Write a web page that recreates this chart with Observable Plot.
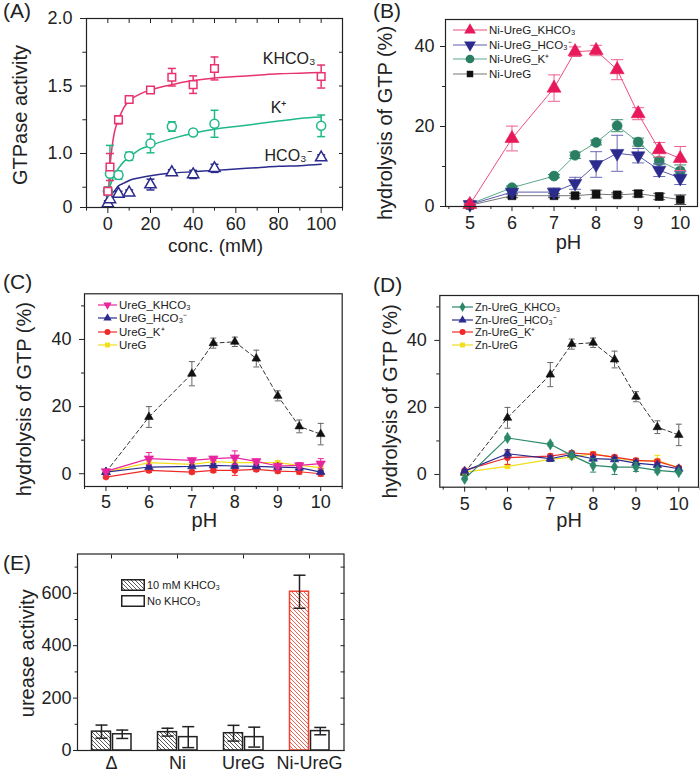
<!DOCTYPE html>
<html>
<head>
<meta charset="utf-8">
<script src="https://cdn.jsdelivr.net/npm/d3@7"></script>
<script src="https://cdn.jsdelivr.net/npm/@observablehq/plot@0.6"></script>
<style>
  html, body { margin: 0; padding: 0; background: #fff; }
  #fig { position: relative; width: 700px; height: 781px; overflow: hidden; font-family: "Liberation Sans", Arial, Helvetica, sans-serif; color: #222; }
  .tag { position: absolute; font-size: 21px; line-height: 21px; }
  .leg { position: absolute; display: flex; align-items: center; white-space: nowrap; height: 14px; line-height: 14px; }
</style>
</head>
<body>
<svg style="position:absolute;width:0;height:0">
  <defs>
    <pattern id="hatchK" patternUnits="userSpaceOnUse" width="4" height="4">
      <path d="M-1,-1L5,5M-1,3L1,5M3,-1L5,1" stroke="#444" stroke-width="0.9"/>
    </pattern>
    <pattern id="hatchR" patternUnits="userSpaceOnUse" width="4" height="4">
      <path d="M-1,-1L5,5M-1,3L1,5M3,-1L5,1" stroke="#f0503c" stroke-width="0.9"/>
    </pattern>
  </defs>
</svg>
<div id="fig">
  <div class="tag" style="left:3px;top:0px">(A)</div>
  <div class="tag" style="left:373px;top:0px">(B)</div>
  <div class="tag" style="left:3px;top:271px">(C)</div>
  <div class="tag" style="left:373px;top:274px">(D)</div>
  <div class="tag" style="left:3px;top:552px">(E)</div>
</div>
<script>
// ---------------- Panel A data ----------------
const concA = [0, 1, 5, 10, 20, 30, 40, 50, 100];
const khco3A = [0.72, 0.90, 1.25, 1.40, 1.47, 1.565, 1.51, 1.63, 1.57];
const khco3AErr = [0.03, 0.10, 0.03, 0.02, 0.01, 0.065, 0.065, 0.085, 0.085];
const kA = [0.72, 0.85, 0.84, 0.98, 1.075, 1.20, 1.155, 1.22, 1.205];
const kAErr = [0.03, 0.21, 0.03, 0.03, 0.07, 0.035, 0.02, 0.10, 0.08];
const hco3A = [0.63, 0.66, 0.70, 0.71, 0.77, 0.86, 0.845, 0.89, 0.97];
const hco3AErr = [0.02, 0.02, 0.02, 0.02, 0.04, 0.02, 0.03, 0.03, 0.02];
const fitConcA = [0, 1, 2, 3, 5, 7.5, 10, 15, 20, 30, 40, 50, 60, 70, 80, 90, 100];
const fitKHCO3A = [0.62, 0.90, 1.05, 1.15, 1.25, 1.34, 1.39, 1.44, 1.47, 1.51, 1.54, 1.56, 1.57, 1.58, 1.59, 1.595, 1.60];
const fitKA = [0.62, 0.75, 0.80, 0.84, 0.89, 0.94, 0.97, 1.03, 1.06, 1.11, 1.15, 1.18, 1.20, 1.22, 1.24, 1.26, 1.27];
const fitHCO3A = [0.60, 0.66, 0.70, 0.72, 0.76, 0.78, 0.80, 0.82, 0.835, 0.855, 0.865, 0.875, 0.885, 0.895, 0.905, 0.91, 0.92];
const yTicksA = [0.6, 1.0, 1.5, 2.0];
const yTickLabelsA = ["0", "1.0", "1.5", "2.0"];
const yMinorA = [0.75, 1.25, 1.75];
const xTicksA = [0, 20, 40, 60, 80, 100];
const xMinorA = [-10, 10, 30, 50, 70, 90, 110];
const labelsA = ["KHCO₃", "K⁺", "HCO₃⁻"];
const labelXA = [85, 80, 84.5];
const labelYA = [1.70, 1.335, 0.985];

// ---------------- pH panels ----------------
const pH = [5, 6, 7, 7.5, 8, 8.5, 9, 9.5, 10];
const pHTicks = [5, 6, 7, 8, 9, 10];
const pHMinor = [4.5, 5.5, 6.5, 7.5, 8.5, 9.5, 10.5];
// Panel B
const niKHCO3 = [0.5, 17.0, 29.6, 38.7, 39.0, 34.2, 23.2, 14.2, 12.0];
const niKHCO3Err = [0.3, 3.1, 3.3, 1.2, 1.3, 2.5, 1.5, 1.8, 3.0];
const niHCO3 = [0.5, 3.6, 3.6, 5.8, 10.5, 13.3, 12.7, 9.1, 7.1];
const niHCO3Err = [0.3, 0.5, 1.0, 1.5, 3.2, 4.5, 1.8, 1.6, 1.6];
const niK = [0.6, 4.7, 7.6, 12.8, 16.0, 20.2, 16.1, 11.4, 8.9];
const niKErr = [0.3, 0.4, 0.4, 0.8, 0.6, 1.5, 1.0, 0.8, 1.5];
const niUreG = [0.3, 2.7, 2.7, 2.7, 3.1, 2.9, 3.2, 2.5, 1.7];
const niUreGErr = [0.3, 0.5, 0.5, 0.6, 1.0, 0.5, 0.8, 0.8, 1.2];
const yTicksB = [0, 20, 40];
const yMinorB = [10, 30];
// Reference curve (Ni-UreG_KHCO3) shown dashed in C and D
const refKHCO3 = [0.5, 16.9, 29.8, 38.9, 39.3, 34.3, 23.2, 14.1, 11.8];
const refKHCO3Err = [0.3, 3.1, 3.6, 1.5, 1.4, 2.5, 1.5, 1.9, 3.2];
// Panel C
const ureGKHCO3 = [0.7, 4.5, 4.0, 4.5, 4.8, 3.7, 2.3, 2.5, 3.0];
const ureGKHCO3Err = [0.3, 1.8, 0.6, 0.6, 2.0, 0.6, 0.6, 0.8, 1.5];
const ureGHCO3 = [0.5, 2.0, 2.2, 2.5, 2.3, 2.2, 2.0, 1.8, 0.5];
const ureGHCO3Err = [0.3, 0.4, 0.4, 0.5, 0.5, 0.5, 0.4, 0.5, 0.5];
const ureGK = [-1.0, 1.0, 0.5, 1.0, 1.0, 1.3, 0.8, 0.6, 0.0];
const ureGKErr = [0.4, 0.6, 0.5, 0.6, 1.5, 0.6, 0.6, 0.7, 0.7];
const ureG = [0.5, 3.3, 2.8, 3.6, 3.3, 3.3, 3.3, 2.5, 1.8];
const ureGErr = [0.3, 0.5, 0.5, 0.5, 0.6, 0.5, 0.6, 0.6, 0.6];
// Panel D
const znKHCO3 = [-1.3, 10.9, 9.0, 5.7, 2.7, 2.2, 2.2, 1.2, 0.7];
const znKHCO3Err = [0.3, 0.4, 0.5, 0.6, 2.0, 2.2, 1.3, 0.7, 0.4];
const znHCO3 = [1.0, 6.2, 4.7, 6.0, 4.7, 4.5, 3.4, 2.8, 1.7];
const znHCO3Err = [0.3, 1.2, 0.8, 0.6, 0.6, 0.6, 0.6, 0.6, 0.5];
const znK = [1.2, 5.0, 5.5, 6.4, 6.0, 5.2, 4.2, 3.9, 2.0];
const znKErr = [0.3, 2.0, 0.6, 0.6, 0.6, 0.5, 0.6, 0.6, 0.4];
const znUreG = [0.7, 2.4, 4.5, 5.2, 6.2, 5.0, 4.0, 4.2, 2.0];
const znUreGErr = [0.3, 0.4, 0.5, 0.6, 0.6, 0.6, 0.6, 1.5, 0.4];
const yTicksCD = [0, 20, 40];
const yMinorCD = [10, 30, 50];

// ---------------- Panel E ----------------
const groupsE = ["Δ", "Ni", "UreG", "Ni-UreG"];
const withKHCO3 = [72, 70, 66, 606];
const withKHCO3Err = [25, 15, 30, 63];
const noKHCO3 = [62, 51, 51, 74];
const noKHCO3Err = [16, 40, 38, 14];
const yTicksE = [0, 200, 400, 600];
const yMinorE = [100, 300, 500, 700];

// ---------------- helpers ----------------
const fig = document.getElementById("fig");
const FONT = '"Liberation Sans", Arial, Helvetica, sans-serif';
const STYLE = {fontFamily: FONT, fontSize: "18px", color: "#222", background: "transparent", overflow: "visible"};
const intFmt = d => String(d);

function place(el, left, top) {
  el.style.position = "absolute";
  el.style.left = left + "px";
  el.style.top = top + "px";
  el.style.overflow = "visible";
  el.style.background = "transparent";
  fig.insertBefore(el, fig.firstChild);
}
const capSym = {draw(ctx, size) { const w = Math.sqrt(size / Math.PI); ctx.moveTo(-w, 0); ctx.lineTo(w, 0); }};
const triDown = {draw(ctx, size) {
  const s3 = Math.sqrt(3), y = -Math.sqrt(size / (s3 * 3));
  ctx.moveTo(0, -2 * y); ctx.lineTo(-s3 * y, y); ctx.lineTo(s3 * y, y); ctx.closePath();
}};
function rows(xs, ys, es) { return xs.map((x, i) => ({x, y: ys[i], lo: ys[i] - es[i], hi: ys[i] + es[i]})); }
function errMarks(data, o) {
  const c = o.err || o.color, w = o.ew || 1, dx = o.dx || 0;
  return [
    Plot.ruleX(data, {x: "x", y1: "lo", y2: "hi", stroke: c, strokeWidth: w, dx}),
    Plot.dot(data, {x: "x", y: "lo", symbol: capSym, r: o.cap, stroke: c, strokeWidth: w, fill: "none", dx}),
    Plot.dot(data, {x: "x", y: "hi", symbol: capSym, r: o.cap, stroke: c, strokeWidth: w, fill: "none", dx})
  ];
}
function series(data, o) {
  return [
    Plot.line(data, {x: "x", y: "y", stroke: o.line || o.color, strokeWidth: o.lw || 1, strokeDasharray: o.dash}),
    ...errMarks(data, o),
    Plot.dot(data, {x: "x", y: "y", symbol: o.symbol, r: o.r, fill: o.fill || o.color, stroke: o.stroke || o.color, strokeWidth: o.sw || 0.6})
  ];
}
const blank = () => "";
function axes(o) {
  const m = [];
  m.push(Plot.axisY({ticks: o.yMajor, tickSize: o.yt, tickPadding: o.yPad, tickFormat: o.yFmt || intFmt, label: null, fontSize: o.fs}));
  if (o.yMinor) m.push(Plot.axisY({ticks: o.yMinor, tickSize: o.yt * 0.6, tickFormat: blank, label: null}));
  if (o.xMajor) m.push(Plot.axisX({ticks: o.xMajor, tickSize: o.xt, tickPadding: o.xPad, tickFormat: o.xFmt || intFmt, label: null, fontSize: o.fs}));
  if (o.xMinor) m.push(Plot.axisX({ticks: o.xMinor, tickSize: o.xt * 0.6, tickFormat: blank, label: null}));
  if (o.mirror) {
    if (o.xMajor) m.push(Plot.axisX({anchor: "top", ticks: [...o.xMajor, ...(o.xMinor || [])], tickSize: -4, tickFormat: blank, label: null}));
    m.push(Plot.axisY({anchor: "right", ticks: [...o.yMajor, ...(o.yMinor || [])], tickSize: -4, tickFormat: blank, label: null}));
  }
  m.push(Plot.frame({stroke: "#222", strokeWidth: 1.2}));
  return m;
}
function yTitle(label, dx, dy, fs) {
  return Plot.text([label], {text: d => d, frameAnchor: "left", rotate: -90, dx, dy, fontSize: fs || 20, textAnchor: "middle", lineAnchor: "middle"});
}
function xTitle(label, dx, dy, fs) {
  return Plot.text([label], {text: d => d, frameAnchor: "bottom", dx, dy, fontSize: fs || 20, textAnchor: "middle", lineAnchor: "middle"});
}
function legend(items, o) {
  items.forEach((it, i) => {
    const row = document.createElement("div");
    row.className = "leg";
    row.style.left = o.left + "px";
    row.style.top = (o.top + i * o.step - 7) + "px";
    row.style.fontSize = o.fs + "px";
    const s = d3.create("svg").attr("width", o.len).attr("height", 14).style("overflow", "visible").style("flex", "none");
    s.append("line").attr("x1", 0).attr("x2", o.len).attr("y1", 7).attr("y2", 7).attr("stroke", it.line || it.color).attr("stroke-width", 1.2);
    s.append("path").attr("d", d3.symbol(it.symbol, it.size)()).attr("transform", `translate(${o.len / 2},7)`).attr("fill", it.color);
    row.appendChild(s.node());
    const t = document.createElement("span");
    t.textContent = it.label;
    t.style.marginLeft = (o.gap || 2) + "px";
    row.appendChild(t);
    fig.appendChild(row);
  });
}

// ---------------- Colours ----------------
const PINK = "#e8336e", TEAL = "#1fb88a", NAVY = "#2b2b8e";
const CRIMSON = "#e8195a", GREEN = "#2a7f62", MAGENTA = "#e8259e", RED = "#ee2a2a", YELLOW = "#f2de1a", DZTEAL = "#2a876a";

// ---------------- Panel A ----------------
const fitA = (ys) => fitConcA.map((x, i) => ({x, y: ys[i]}));
const annA = labelsA.map((t, i) => ({t, x: labelXA[i], y: labelYA[i]}));
const plotA = Plot.plot({
  width: 350, height: 260, marginTop: 18, marginRight: 8, marginBottom: 53, marginLeft: 86,
  x: {domain: [-10, 110]}, y: {domain: [0.6, 2.0]},
  style: STYLE,
  marks: [
    Plot.line(fitA(fitKHCO3A), {x: "x", y: "y", stroke: PINK, strokeWidth: 1.5, curve: "monotone-x"}),
    Plot.line(fitA(fitKA), {x: "x", y: "y", stroke: TEAL, strokeWidth: 1.5, curve: "monotone-x"}),
    Plot.line(fitA(fitHCO3A), {x: "x", y: "y", stroke: NAVY, strokeWidth: 1.5, curve: "monotone-x"}),
    ...errMarks(rows(concA, hco3A, hco3AErr), {color: NAVY, ew: 1.5, cap: 4}),
    ...errMarks(rows(concA, kA, kAErr), {color: TEAL, ew: 1.5, cap: 4}),
    ...errMarks(rows(concA, khco3A, khco3AErr), {color: PINK, ew: 1.5, cap: 4}),
    Plot.dot(rows(concA, hco3A, hco3AErr), {x: "x", y: "y", symbol: "triangle", r: 4.2, fill: "white", stroke: NAVY, strokeWidth: 1.5}),
    Plot.dot(rows(concA, kA, kAErr), {x: "x", y: "y", symbol: "circle", r: 4.5, fill: "white", stroke: TEAL, strokeWidth: 1.5}),
    Plot.dot(rows(concA, khco3A, khco3AErr), {x: "x", y: "y", symbol: "square", r: 4.3, fill: "white", stroke: PINK, strokeWidth: 1.5}),
    Plot.text(annA, {x: "x", y: "y", text: "t", fontSize: 16, fill: "#222"}),
    ...axes({yMajor: yTicksA, yMinor: yMinorA, yFmt: d => yTickLabelsA[yTicksA.indexOf(d)], yt: 6, yPad: 8,
             xMajor: xTicksA, xMinor: xMinorA, xt: 6, xPad: 4, fs: 18, mirror: true}),
    yTitle("GTPase activity", -66, 2),
    xTitle("conc. (mM)", 1, 38, 19)
  ]
});
place(plotA, 0, 0);

// ---------------- Panel B ----------------
const plotB = Plot.plot({
  width: 350, height: 260, marginTop: 19, marginRight: 3, marginBottom: 54, marginLeft: 95,
  x: {domain: [4.42, 10.41]}, y: {domain: [0, 46.75]},
  style: STYLE,
  marks: [
    ...series(rows(pH, niUreG, niUreGErr), {color: "#111", line: "#777", err: "#555", symbol: "square", r: 4.5, cap: 6}),
    ...series(rows(pH, niK, niKErr), {color: GREEN, line: "#5aa88a", err: "#3f8f72", symbol: "circle", r: 5, cap: 6}),
    ...series(rows(pH, niHCO3, niHCO3Err), {color: NAVY, line: "#5a5ab0", err: "#6a6ab8", symbol: triDown, r: 5, cap: 6}),
    ...series(rows(pH, niKHCO3, niKHCO3Err), {color: CRIMSON, line: "#ee4c80", err: "#ee6090", symbol: "triangle", r: 5.2, cap: 6}),
    ...axes({yMajor: yTicksB, yMinor: yMinorB, yt: 5, yPad: 6, xMajor: pHTicks, xMinor: pHMinor, xt: 5, xPad: 5, fs: 18}),
    yTitle("hydrolysis of GTP (%)", -59.5, 10),
    xTitle("pH", -3, 36.5)
  ]
});
place(plotB, 350, 0);

// ---------------- Panel C ----------------
const plotC = Plot.plot({
  width: 350, height: 270, marginTop: 33.3, marginRight: 8.3, marginBottom: 44, marginLeft: 84,
  x: {domain: [4.5, 10.5]}, y: {domain: [-3.8, 53.6]},
  style: STYLE,
  marks: [
    ...series(rows(pH, refKHCO3, refKHCO3Err), {color: "#111", line: "#333", err: "#666", dash: "4,3", symbol: "triangle", r: 3.2, cap: 3}),
    ...series(rows(pH, ureG, ureGErr), {color: YELLOW, symbol: "square", r: 2.6, cap: 3, lw: 1.2}),
    ...series(rows(pH, ureGK, ureGKErr), {color: RED, symbol: "circle", r: 3, cap: 3, lw: 1.2}),
    ...series(rows(pH, ureGHCO3, ureGHCO3Err), {color: NAVY, symbol: "triangle", r: 3.2, cap: 3, lw: 1.2}),
    ...series(rows(pH, ureGKHCO3, ureGKHCO3Err), {color: MAGENTA, symbol: triDown, r: 3.5, cap: 3, lw: 1.2}),
    ...axes({yMajor: yTicksCD, yMinor: yMinorCD, yt: 5, yPad: 8, xMajor: pHTicks, xMinor: pHMinor, xt: 5, xPad: 4, fs: 18}),
    yTitle("hydrolysis of GTP (%)", -60, 9),
    xTitle("pH", -9, 34)
  ]
});
place(plotC, 0, 260);

// ---------------- Panel D ----------------
const plotD = Plot.plot({
  width: 350, height: 270, marginTop: 35, marginRight: 2, marginBottom: 43.3, marginLeft: 89.3,
  x: {domain: [4.42, 10.46]}, y: {domain: [-3.8, 53.4]},
  style: STYLE,
  marks: [
    ...series(rows(pH, refKHCO3, refKHCO3Err), {color: "#111", line: "#333", err: "#666", dash: "4,3", symbol: "triangle", r: 3.2, cap: 3}),
    ...series(rows(pH, znUreG, znUreGErr), {color: YELLOW, symbol: "square", r: 2.6, cap: 3, lw: 1.2}),
    ...series(rows(pH, znK, znKErr), {color: RED, symbol: "circle", r: 3, cap: 3, lw: 1.2}),
    ...series(rows(pH, znHCO3, znHCO3Err), {color: NAVY, symbol: "triangle", r: 3.2, cap: 3, lw: 1.2}),
    ...series(rows(pH, znKHCO3, znKHCO3Err), {color: DZTEAL, symbol: "diamond", r: 3.4, cap: 3, lw: 1.2}),
    ...axes({yMajor: yTicksCD, yMinor: yMinorCD, yt: 5, yPad: 8, xMajor: pHTicks, xMinor: pHMinor, xt: 5, xPad: 5, fs: 18}),
    yTitle("hydrolysis of GTP (%)", -49.3, 10),
    xTitle("pH", 0, 33)
  ]
});
place(plotD, 350, 260);

// ---------------- Panel E ----------------
const withT = groupsE.map((g, i) => ({x: g, y: withKHCO3[i], lo: withKHCO3[i] - withKHCO3Err[i], hi: withKHCO3[i] + withKHCO3Err[i]}));
const noT = groupsE.map((g, i) => ({x: g, y: noKHCO3[i], lo: noKHCO3[i] - noKHCO3Err[i], hi: noKHCO3[i] + noKHCO3Err[i]}));
const plotE = Plot.plot({
  width: 350, height: 261, marginTop: 33.5, marginRight: 6.5, marginBottom: 31, marginLeft: 77,
  x: {type: "band", domain: groupsE, padding: 0}, y: {domain: [0, 750]},
  style: STYLE,
  marks: [
    Plot.barY(withT, {x: "x", y: "y", filter: d => d.x !== "Ni-UreG", fill: "url(#hatchK)", stroke: "#222", strokeWidth: 1.5, insetLeft: 13.5, insetRight: 33.5}),
    Plot.barY(withT, {x: "x", y: "y", filter: d => d.x === "Ni-UreG", fill: "url(#hatchR)", stroke: "#f0402c", strokeWidth: 1.5, insetLeft: 13.5, insetRight: 33.5}),
    Plot.barY(noT, {x: "x", y: "y", fill: "white", stroke: "#222", strokeWidth: 1.5, insetLeft: 34.5, insetRight: 13}),
    ...errMarks(withT, {color: "#222", ew: 1.5, cap: 6, dx: -10}),
    ...errMarks(noT, {color: "#222", ew: 1.5, cap: 6, dx: 10.75}),
    Plot.axisX({tickSize: 0, tickPadding: 6, label: null, fontSize: 18}),
    Plot.axisX({anchor: "top", tickSize: -4, tickFormat: blank, label: null}),
    ...axes({yMajor: yTicksE, yMinor: yMinorE, yt: 4, yPad: 2, fs: 18, mirror: true}),
    yTitle("urease activity", -50, 1)
  ]
});
place(plotE, 0, 520);

// ---------------- Legends ----------------
legend([
  {label: "Ni-UreG_KHCO₃", color: CRIMSON, line: "#ee4c80", symbol: d3.symbolTriangle, size: 60},
  {label: "Ni-UreG_HCO₃⁻", color: NAVY, line: "#5a5ab0", symbol: triDown, size: 60},
  {label: "Ni-UreG_K⁺", color: GREEN, line: "#5aa88a", symbol: d3.symbolCircle, size: 60},
  {label: "Ni-UreG", color: "#111", line: "#777", symbol: d3.symbolSquare, size: 42}
], {left: 453, top: 30, step: 14.6, len: 34, fs: 11.5});

legend([
  {label: "UreG_KHCO₃", color: MAGENTA, symbol: triDown, size: 30},
  {label: "UreG_HCO₃⁻", color: NAVY, symbol: d3.symbolTriangle, size: 30},
  {label: "UreG_K⁺", color: RED, symbol: d3.symbolCircle, size: 28},
  {label: "UreG", color: YELLOW, symbol: d3.symbolSquare, size: 24}
], {left: 98, top: 305, step: 13.3, len: 19, fs: 11.5});

legend([
  {label: "Zn-UreG_KHCO₃", color: DZTEAL, symbol: d3.symbolDiamond, size: 30},
  {label: "Zn-UreG_HCO₃⁻", color: NAVY, symbol: d3.symbolTriangle, size: 30},
  {label: "Zn-UreG_K⁺", color: RED, symbol: d3.symbolCircle, size: 28},
  {label: "Zn-UreG", color: YELLOW, symbol: d3.symbolSquare, size: 24}
], {left: 452, top: 307, step: 12.5, len: 21, fs: 11});

// Panel E legend (hatched / open boxes)
[["10 mM KHCO₃", "url(#hatchK)", 584.5], ["No KHCO₃", "white", 600.5]].forEach(([label, fill, cy]) => {
  const row = document.createElement("div");
  row.className = "leg";
  row.style.left = "121px";
  row.style.top = (cy - 7) + "px";
  row.style.fontSize = "11px";
  const s = d3.create("svg").attr("width", 24).attr("height", 14).style("overflow", "visible").style("flex", "none");
  s.append("rect").attr("x", 0.75).attr("y", 1.75).attr("width", 22.5).attr("height", 10.5).attr("fill", fill).attr("stroke", "#222").attr("stroke-width", 1.5);
  row.appendChild(s.node());
  const t = document.createElement("span");
  t.textContent = label;
  t.style.marginLeft = "2px";
  row.appendChild(t);
  fig.appendChild(row);
});
</script>
</body>
</html>
